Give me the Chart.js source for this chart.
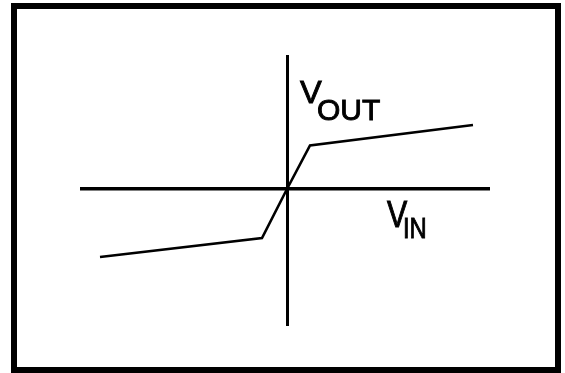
<!DOCTYPE html>
<html>
<head>
<meta charset="utf-8">
<script src="https://cdn.jsdelivr.net/npm/chart.js@4.4.1/dist/chart.umd.min.js"></script>
<style>
  html, body { margin: 0; padding: 0; background: #fff; }
  #wrap { position: relative; width: 565px; height: 373px; overflow: hidden; }
  #frame { position: absolute; left: 11px; top: 3px; width: 550px; height: 370px;
           box-sizing: border-box; border: 6px solid #000; pointer-events: none; }
  canvas { position: absolute; left: 0; top: 0; }
</style>
</head>
<body>
<div id="wrap">
  <canvas id="c" width="565" height="373"></canvas>
  <div id="frame"></div>
</div>
<script>
// Transfer characteristic V_OUT vs V_IN (arbitrary units)
const vIn  = [-18.7, -2.5, 0, 2.3, 18.6];
const vOut = [-6.8, -4.9, 0, 4.35, 6.4];
// axis extents
const xRange = [-20.7, 20.3];
const yRange = [-13.7, 13.4];
const axisTicks = [0];

const points = vIn.map((x, i) => ({ x: x, y: vOut[i] }));

function txt(ctx, s, x, y, size, sx, sy) {
  ctx.save();
  ctx.translate(x, y);
  ctx.scale(sx, sy);
  ctx.font = size + 'px "Liberation Sans", Arial, sans-serif';
  ctx.fillText(s, 0, 0);
  ctx.lineWidth = 0.9;
  ctx.strokeText(s, 0, 0);
  ctx.restore();
}

const labelPlugin = {
  id: 'axisLabels',
  afterDraw(chart) {
    const ctx = chart.ctx;
    const ox = chart.scales.x.getPixelForValue(0);
    const oy = chart.scales.y.getPixelForValue(0);
    ctx.save();
    ctx.fillStyle = '#000';
    ctx.strokeStyle = '#000';
    ctx.textBaseline = 'alphabetic';
    ctx.textAlign = 'left';
    // V_OUT
    txt(ctx, 'V', ox + 13, oy - 86, 32, 1.02, 1);
    txt(ctx, 'OUT', ox + 30, oy - 69, 30, 1, 1);
    // V_IN
    txt(ctx, 'V', ox + 100, oy + 38, 33, 0.92, 1.12);
    txt(ctx, 'IN', ox + 116, oy + 49, 29, 0.82, 1);
    ctx.restore();
  }
};

function zeroOnly(scale) {
  scale.ticks = axisTicks.map(v => ({ value: v }));
}

new Chart(document.getElementById('c'), {
  type: 'scatter',
  data: {
    datasets: [{
      data: points,
      showLine: true,
      borderColor: '#000',
      borderWidth: 2.6,
      pointRadius: 0,
      tension: 0,
      fill: false
    }]
  },
  options: {
    responsive: false,
    animation: false,
    events: [],
    layout: { padding: { left: 80, right: 75, top: 55, bottom: 47 } },
    plugins: { legend: { display: false }, tooltip: { enabled: false } },
    scales: {
      x: {
        type: 'linear', min: xRange[0], max: xRange[1],
        afterBuildTicks: zeroOnly,
        ticks: { display: false },
        border: { display: false },
        grid: { color: '#000', lineWidth: 3, drawTicks: false }
      },
      y: {
        type: 'linear', min: yRange[0], max: yRange[1],
        afterBuildTicks: zeroOnly,
        ticks: { display: false },
        border: { display: false },
        grid: { color: '#000', lineWidth: 3.5, drawTicks: false }
      }
    }
  },
  plugins: [labelPlugin]
});
</script>
</body>
</html>
